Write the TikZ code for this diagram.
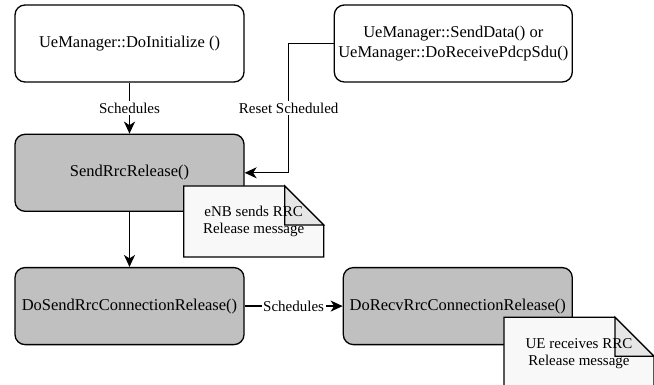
\documentclass[tikz,border=0pt]{standalone}
\usepackage{fontspec}
\setmainfont{Liberation Serif}
\usetikzlibrary{arrows.meta, positioning}
\definecolor{boxgrey}{HTML}{C0C0C0}
\definecolor{paper}{HTML}{F8F8F8}
\definecolor{foldgrey}{HTML}{E6E6E6}

\begin{document}
\begin{tikzpicture}[
    x=1pt, y=-1pt,
    every node/.style={font=\fontsize{15}{17}\selectfont},
    box/.style={draw, rounded corners=10pt, align=center, line width=1.3pt,
                minimum width=229pt, minimum height=77pt,
                font=\fontsize{16.5}{19.5}\selectfont},
    call/.style={box, fill=white},
    func/.style={box, fill=boxgrey},
    paperbox/.style={draw, fill=paper, line width=1.3pt},
    fold/.style={draw, fill=foldgrey, line width=1.3pt},
    notetext/.style={align=center, inner sep=0pt},
    lbl/.style={fill=white, inner sep=1.5pt},
    arrow/.style={-{Stealth[length=12pt, width=11pt, inset=3.5pt]}, line width=1.3pt}
]
    \useasboundingbox (0,0) rectangle (654,385);

    \node[call] (init) at (129.5,43.5) {UeManager::DoInitialize ()};
    \node[call, right=89pt of init, minimum width=238pt] (senddata)
        {UeManager::SendData() or\\UeManager::DoReceivePdcpSdu()};
    \node[func, below=51pt of init] (sendrrc) {SendRrcRelease()};
    \node[func, below=55pt of sendrrc] (dosend) {DoSendRrcConnectionRelease()};
    \node[func, right=98pt of dosend] (dorecv) {DoRecvRrcConnectionRelease()};

    \draw[arrow] (init) -- node[lbl]{Schedules} (sendrrc);
    \draw[arrow] (senddata.west) -- ++(-45,0) |- node[lbl, pos=0.25]{Reset Scheduled} (sendrrc.east);
    \draw[arrow] (sendrrc) -- (dosend);
    \draw[arrow] (dosend) -- node[lbl]{Schedules} (dorecv);

    % notes
    \coordinate (enbnote) at ([shift={(-61,-26)}]sendrrc.south east);
    \draw[paperbox] (enbnote) -- ++(101,0) -- ++(39,39) -- ++(0,32) -- ++(-140,0) -- cycle;
    \draw[fold] ([xshift=101pt]enbnote) -- ++(0,39) -- ++(39,0) -- cycle;
    \node[notetext] (enb) at ([shift={(70,35.5)}]enbnote) {eNB sends RRC\\Release message};

    \coordinate (uenote) at ([shift={(-69,-28)}]dorecv.south east);
    \draw[paperbox] (uenote) -- ++(111,0) -- ++(39,39) -- ++(0,33) -- ++(-150,0) -- cycle;
    \draw[fold] ([xshift=111pt]uenote) -- ++(0,39) -- ++(39,0) -- cycle;
    \node[notetext] (ue) at ([shift={(75,36)}]uenote) {UE receives RRC\\Release message};
\end{tikzpicture}
\end{document}
